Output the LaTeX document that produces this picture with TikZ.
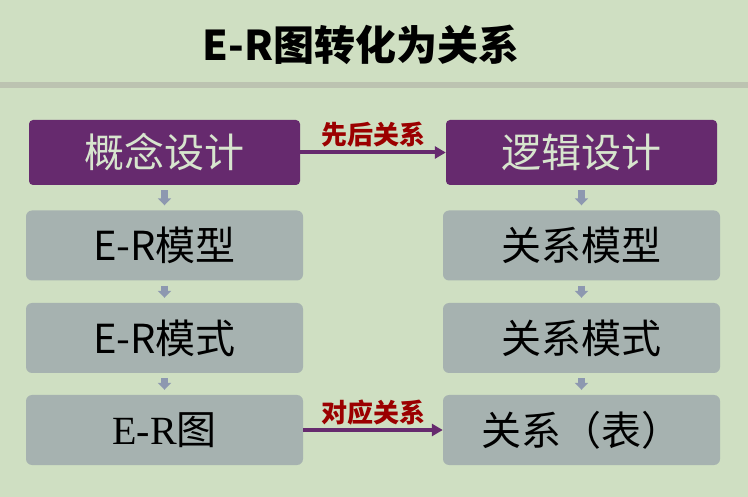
\documentclass[tikz,border=0pt]{standalone}
\usepackage{fontspec}
\setmainfont{Noto Sans CJK SC}
\newfontfamily\patkovy{Liberation Serif}
\usetikzlibrary{arrows.meta}

\definecolor{pozadi}{HTML}{CFDFC2}
\definecolor{pruh}{HTML}{BCC3B1}
\definecolor{fialova}{HTML}{662A6E}
\definecolor{seda}{HTML}{A6B2B0}
\definecolor{svetla}{HTML}{D7E5CE}
\definecolor{sipka}{HTML}{8D98B0}
\definecolor{cervena}{HTML}{9B0000}

\begin{document}
\begin{tikzpicture}[
    x=1pt, y=-1pt,
    font=\fontsize{40pt}{48pt}\selectfont,
    hlavni/.style={draw=none, fill=fialova, text=svetla, rounded corners=4pt, minimum width=271pt, minimum height=65pt, inner sep=0pt},
    dilci/.style={draw=none, fill=seda, text=black, rounded corners=6pt, minimum width=277pt, minimum height=70pt, inner sep=0pt},
    dolu/.style={sipka, line width=7pt, -{Triangle[length=7pt, width=13pt]}, shorten <=5pt, shorten >=5pt},
    vztah/.style={fialova, line width=4pt, -{Triangle[length=11pt, width=12pt]}},
    lbl/.style={font=\fontsize{26pt}{30pt}\selectfont\bfseries, text=cervena, inner sep=0pt},
    >=Stealth]

    % pozadi a nadpis
    \fill[pozadi] (0,0) rectangle (748,497);
    \fill[pruh] (0,82) rectangle (748,88);
    \node[font=\fontsize{41pt}{48pt}\selectfont\bfseries, inner sep=0pt] (nadpis) at (361,45) {E-R图转化为关系};

    % levy sloupec
    \node[hlavni] (gainian) at (164.5,152.5) {概念设计};
    \node[dilci] (ermoxing) at (164.5,245.5) {E-R模型};
    \node[dilci] (ermoshi) at (164.5,338) {E-R模式};
    \node[dilci] (ertu) at (164.5,430) {{\patkovy E-R}图};

    % pravy sloupec
    \node[hlavni] (luoji) at (581.5,152.5) {逻辑设计};
    \node[dilci] (gxmoxing) at (581.5,245.5) {关系模型};
    \node[dilci] (gxmoshi) at (581.5,338) {关系模式};
    \node[dilci] (biao) at (581.5,430) {关系（表）};

    % sipky dolu
    \draw[dolu] (gainian) -- (ermoxing);
    \draw[dolu] (ermoxing) -- (ermoshi);
    \draw[dolu] (ermoshi) -- (ertu);
    \draw[dolu] (luoji) -- (gxmoxing);
    \draw[dolu] (gxmoxing) -- (gxmoshi);
    \draw[dolu] (gxmoshi) -- (biao);

    % vztahy mezi sloupci
    \draw[vztah] (gainian.east) -- node[lbl, above=3pt] {先后关系} (luoji.west);
    \draw[vztah] (ertu.east) -- node[lbl, above=3pt] {对应关系} (biao.west);
\end{tikzpicture}
\end{document}
